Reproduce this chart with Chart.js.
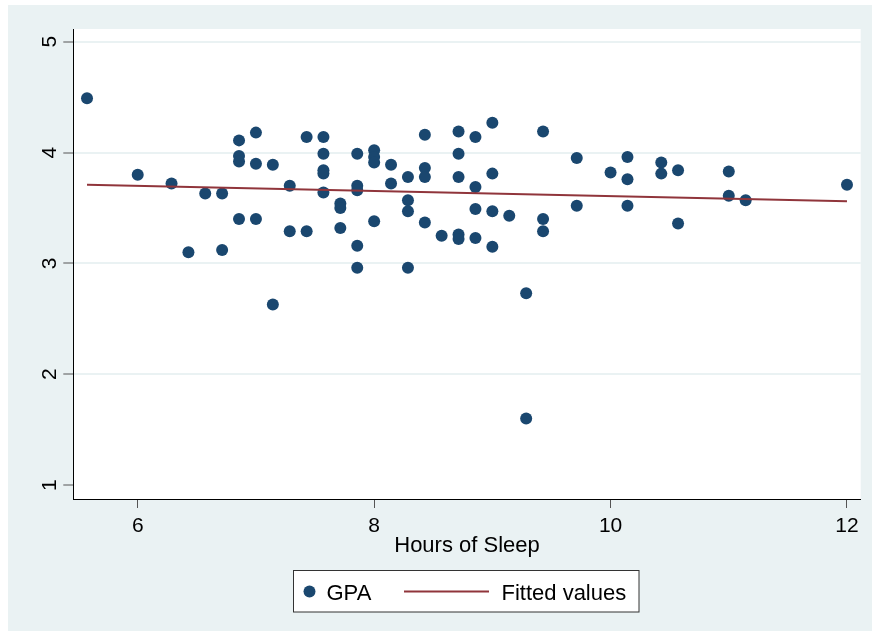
<!DOCTYPE html>
<html>
<head>
<meta charset="utf-8">
<title>GPA and Hours of Sleep</title>
<script src="https://cdn.jsdelivr.net/npm/chart.js@4/dist/chart.umd.min.js"></script>
<style>
  html, body { margin: 0; padding: 0; background: #ffffff; }
  #wrap { width: 872px; height: 636px; position: relative; }
</style>
</head>
<body>
<div id="wrap"><canvas id="chart" width="872" height="636"></canvas></div>
<script>
// Average nightly sleep (hours) and GPA for each student
const sleepHours = [
  5.571,
  6,
  6.286,
  6.429,
  6.571,
  6.714, 6.714,
  6.857, 6.857, 6.857, 6.857,
  7, 7, 7,
  7.143, 7.143,
  7.286, 7.286,
  7.429, 7.429,
  7.571, 7.571, 7.571, 7.571, 7.571,
  7.714, 7.714, 7.714,
  7.857, 7.857, 7.857, 7.857, 7.857,
  8, 8, 8, 8,
  8.143, 8.143,
  8.286, 8.286, 8.286, 8.286,
  8.429, 8.429, 8.429, 8.429,
  8.571,
  8.714, 8.714, 8.714, 8.714, 8.714,
  8.857, 8.857, 8.857, 8.857,
  9, 9, 9, 9,
  9.143,
  9.286, 9.286,
  9.429, 9.429, 9.429,
  9.714, 9.714,
  10,
  10.143, 10.143, 10.143,
  10.429, 10.429,
  10.571, 10.571,
  11, 11,
  11.143,
  12
];
const gpa = [
  4.49,
  3.80,
  3.72,
  3.10,
  3.63,
  3.63, 3.12,
  4.11, 3.97, 3.92, 3.40,
  4.18, 3.90, 3.40,
  3.89, 2.63,
  3.70, 3.29,
  4.14, 3.29,
  4.14, 3.99, 3.84, 3.81, 3.64,
  3.54, 3.50, 3.32,
  3.99, 3.70, 3.66, 3.16, 2.96,
  4.02, 3.96, 3.91, 3.38,
  3.89, 3.72,
  3.78, 3.57, 3.47, 2.96,
  4.16, 3.86, 3.78, 3.37,
  3.25,
  4.19, 3.99, 3.78, 3.26, 3.22,
  4.14, 3.69, 3.49, 3.23,
  4.27, 3.81, 3.47, 3.15,
  3.43,
  2.73, 1.60,
  4.19, 3.40, 3.29,
  3.95, 3.52,
  3.82,
  3.96, 3.76, 3.52,
  3.91, 3.81,
  3.84, 3.36,
  3.83, 3.61,
  3.57,
  3.71
];
// Linear fit, evaluated at the ends of the sleep range
const fitHours = [5.571, 12];
const fitGpa = [3.71, 3.56];

const xTicks = [6, 8, 10, 12];
const yTicks = [1, 2, 3, 4, 5];
const seriesLabels = ['GPA', 'Fitted values'];
const xTitle = 'Hours of Sleep';

const NAVY = '#1a476f';
const MAROON = '#90353b';
const PANEL = '#eaf2f3';
const FONT = "'Liberation Sans', Arial, Helvetica, sans-serif";

// Page background, light panel and white plot region
const backdrop = {
  id: 'backdrop',
  beforeDraw(chart) {
    const { ctx, chartArea: a } = chart;
    ctx.save();
    ctx.fillStyle = '#ffffff';
    ctx.fillRect(0, 0, chart.width, chart.height);
    ctx.fillStyle = PANEL;
    ctx.fillRect(8, 5, chart.width - 8, 626);
    ctx.fillStyle = '#ffffff';
    ctx.fillRect(a.left, a.top, a.right - a.left, a.bottom - a.top);
    ctx.restore();
  }
};

// Framed legend under the axis title
const framedLegend = {
  id: 'framedLegend',
  afterDraw(chart) {
    const { ctx } = chart;
    const ds = chart.data.datasets;
    ctx.save();
    ctx.fillStyle = '#ffffff';
    ctx.fillRect(293.5, 570.5, 345.5, 41.5);
    ctx.strokeStyle = '#333333';
    ctx.lineWidth = 1;
    ctx.strokeRect(293.5, 570.5, 345.5, 41.5);

    const cy = 591.5;
    ctx.fillStyle = ds[0].backgroundColor;
    ctx.beginPath();
    ctx.arc(309.5, cy, 6, 0, Math.PI * 2);
    ctx.fill();

    ctx.strokeStyle = ds[1].borderColor;
    ctx.lineWidth = 2;
    ctx.beginPath();
    ctx.moveTo(404, cy);
    ctx.lineTo(489, cy);
    ctx.stroke();

    ctx.fillStyle = '#000000';
    ctx.font = '22px ' + FONT;
    ctx.textBaseline = 'alphabetic';
    ctx.textAlign = 'left';
    ctx.fillText(ds[0].label, 326.5, 600);
    ctx.fillText(ds[1].label, 501.5, 600);
    ctx.restore();
  }
};

const scatterPoints = sleepHours.map((h, i) => ({ x: h, y: gpa[i] }));
const fitPoints = fitHours.map((h, i) => ({ x: h, y: fitGpa[i] }));

new Chart(document.getElementById('chart'), {
  type: 'scatter',
  data: {
    datasets: [
      {
        label: seriesLabels[0],
        data: scatterPoints,
        backgroundColor: NAVY,
        borderColor: NAVY,
        borderWidth: 0,
        pointRadius: 6,
        pointHoverRadius: 6,
        order: 1
      },
      {
        type: 'line',
        label: seriesLabels[1],
        data: fitPoints,
        borderColor: MAROON,
        backgroundColor: MAROON,
        borderWidth: 2,
        pointRadius: 0,
        fill: false,
        tension: 0,
        order: 0
      }
    ]
  },
  options: {
    responsive: false,
    animation: false,
    devicePixelRatio: 1,
    layout: { padding: { left: 0, right: 11.3, top: 29, bottom: 70 } },
    plugins: {
      legend: { display: false },
      tooltip: { enabled: false }
    },
    scales: {
      x: {
        type: 'linear',
        min: 5.455,
        max: 12.116,
        afterBuildTicks(scale) { scale.ticks = xTicks.map(v => ({ value: v })); },
        afterFit(scale) { scale.height = 67; },
        border: { display: true, color: '#000000', width: 1 },
        grid: {
          display: true,
          drawOnChartArea: false,
          drawTicks: true,
          tickLength: 9,
          tickColor: '#555555',
          tickWidth: 1
        },
        ticks: {
          color: '#000000',
          font: { family: FONT, size: 21 },
          padding: 6,
          maxRotation: 0,
          minRotation: 0,
          callback: v => String(v)
        },
        title: {
          display: true,
          text: xTitle,
          color: '#000000',
          font: { family: FONT, size: 22 },
          padding: { top: 0, bottom: 7 }
        }
      },
      y: {
        type: 'linear',
        min: 0.874,
        max: 5.115,
        afterBuildTicks(scale) { scale.ticks = yTicks.map(v => ({ value: v })); },
        afterFit(scale) { scale.width = 73.3; },
        border: { display: true, color: '#000000', width: 1 },
        grid: {
          display: true,
          drawOnChartArea: true,
          drawTicks: true,
          tickLength: 10,
          tickColor: '#555555',
          tickWidth: 1,
          lineWidth: 2,
          color: ctx => (ctx.tick && ctx.tick.value === yTicks[0]) ? 'rgba(0,0,0,0)' : PANEL
        },
        ticks: {
          color: '#000000',
          font: { family: FONT, size: 21 },
          padding: 7.5,
          minRotation: 90,
          maxRotation: 90,
          crossAlign: 'center',
          callback: v => String(v)
        }
      }
    }
  },
  plugins: [backdrop, framedLegend]
});
</script>
</body>
</html>
